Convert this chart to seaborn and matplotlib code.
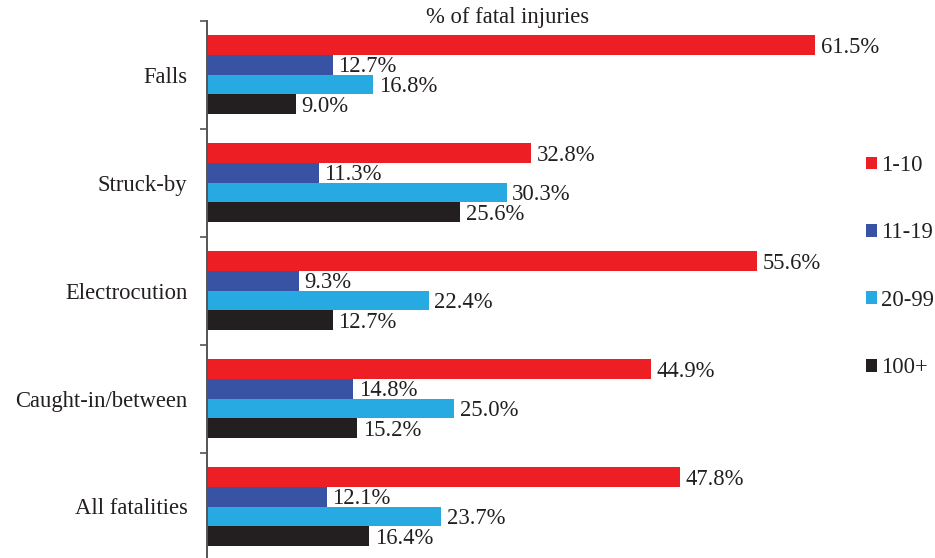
import seaborn as sns
import matplotlib.pyplot as plt
import pandas as pd
from matplotlib.patches import Patch

# Data
categories = ["Falls", "Struck-by", "Electrocution", "Caught-in/between", "All fatalities"]
sizes = ["1-10", "11-19", "20-99", "100+"]
pct_1_10 = [61.5, 32.8, 55.6, 44.9, 47.8]
pct_11_19 = [12.7, 11.3, 9.3, 14.8, 12.1]
pct_20_99 = [16.8, 30.3, 22.4, 25.0, 23.7]
pct_100 = [9.0, 25.6, 12.7, 15.2, 16.4]
colors = ["#EE1F24", "#3953A4", "#27AAE1", "#231F20"]

rows = []
for i, cat in enumerate(categories):
    for size, vals in zip(sizes, [pct_1_10, pct_11_19, pct_20_99, pct_100]):
        rows.append({"Cause": cat, "Size": size, "Pct": vals[i]})
df = pd.DataFrame(rows)

sns.set_style("white")
serif = ["Liberation Serif", "DejaVu Serif"]
plt.rcParams["font.family"] = serif
plt.rcParams["text.color"] = "#231F20"
fs = 16.3

fig = plt.figure(figsize=(9.35, 5.58), dpi=100)
# axes placed in pixels: left 207, top 20.5, right 935, bottom 560.5
ax = fig.add_axes([207 / 935, 1 - 560.5 / 558, (935 - 207) / 935, 540 / 558])

sns.barplot(data=df, y="Cause", x="Pct", hue="Size", hue_order=sizes,
            palette=colors, saturation=1, orient="h", width=0.73, linewidth=0,
            legend=False, ax=ax)

# value labels at bar ends, nudged slightly down like the original
for container in ax.containers:
    texts = ax.bar_label(container, labels=[f"{v:.1f}%" for v in container.datavalues],
                         padding=4, fontsize=fs, color="#231F20")
    for t in texts:
        t.xyann = (4, -1.5)

ax.set_xlim(0, 73.6)
ax.set_ylim(4.5, -0.5)
ax.set_xlabel("")
ax.set_ylabel("")
ax.set_xticks([])

ax.set_yticks(range(len(categories)))
ax.set_yticklabels(categories, fontsize=fs, color="#231F20")
ax.tick_params(axis="y", which="major", length=0, pad=14)
ax.set_yticks([i - 0.5 for i in range(len(categories))], minor=True)
ax.tick_params(axis="y", which="minor", length=5, width=1.2, color="#555555",
               direction="out", left=True)

for s in ["top", "right", "bottom"]:
    ax.spines[s].set_visible(False)
ax.spines["left"].set_color("#555555")
ax.spines["left"].set_linewidth(1.4)

fig.text(508 / 935, 1 - 18 / 558, "% of fatal injuries", fontsize=fs,
         family=serif, ha="center", va="center")

handles = [Patch(facecolor=c, edgecolor="none") for c in colors]
fig.legend(handles, sizes, loc="upper left", bbox_to_anchor=(866 / 935, 1 - 155 / 558),
           frameon=False, fontsize=fs, handlelength=0.5, handleheight=0.5,
           handletextpad=0.15, labelspacing=2.05, borderaxespad=0, borderpad=0)

fig.savefig("out.png", dpi=100)
